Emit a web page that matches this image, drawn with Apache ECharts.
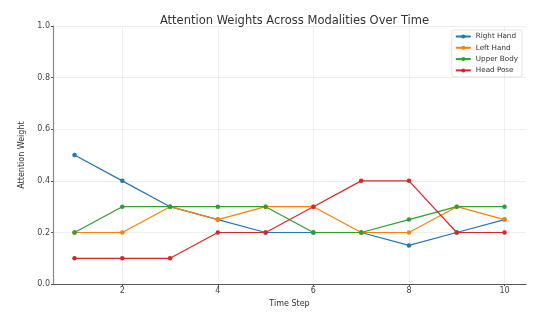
<!DOCTYPE html>
<html><head><meta charset="utf-8">
<script src="https://cdn.jsdelivr.net/npm/echarts@6/dist/echarts.min.js"></script>
<style>html,body{margin:0;padding:0;background:#fff}#c{width:554px;height:313px}</style>
</head><body><div id="c"></div>
<script>
const timeSteps = [1,2,3,4,5,6,7,8,9,10];
const rightHand = [0.5,0.4,0.3,0.25,0.2,0.2,0.2,0.15,0.2,0.25];
const leftHand = [0.2,0.2,0.3,0.25,0.3,0.3,0.2,0.2,0.3,0.25];
const upperBody = [0.2,0.3,0.3,0.3,0.3,0.2,0.2,0.25,0.3,0.3];
const headPose = [0.1,0.1,0.1,0.2,0.2,0.3,0.4,0.4,0.2,0.2];
const xTicks = [2,4,6,8,10];
const yTicks = [0,0.2,0.4,0.6,0.8,1.0];
const names = ['Right Hand','Left Hand','Upper Body','Head Pose'];
const colors = ['#1f77b4','#ff7f0e','#2ca02c','#d62728'];
const values = [rightHand,leftHand,upperBody,headPose];

const chart = echarts.init(document.getElementById('c'));
const font = 'DejaVu Sans';
chart.setOption({
  animation:false,
  title:{text:'Attention Weights Across Modalities Over Time',left:289.5,textAlign:'center',top:10,
    textStyle:{fontFamily:font,fontSize:11.5,fontWeight:'normal',color:'#333'}},
  legend:{orient:'vertical',right:32,top:30,itemWidth:15,itemHeight:5,itemGap:4.3,
    borderColor:'#ddd',borderWidth:0.8,borderRadius:2,padding:[3,4,3,3],
    textStyle:{fontFamily:font,fontSize:7.2,color:'#333'},data:names},
  grid:{left:53,right:28,top:26,bottom:28,containLabel:false},
  xAxis:{type:'value',min:0.55,max:10.45,
    name:'Time Step',nameLocation:'middle',nameGap:14,
    nameTextStyle:{fontFamily:font,fontSize:8,color:'#333'},
    axisLine:{show:true,lineStyle:{color:'#555',width:1}},
    axisTick:{show:true,customValues:xTicks,length:2,lineStyle:{color:'#555'}},
    axisLabel:{customValues:xTicks,fontFamily:font,fontSize:8,color:'#444',margin:3},
    splitLine:{show:true,lineStyle:{color:'#e8e8e8',width:0.7}}},
  yAxis:{type:'value',min:0,max:1,interval:0.2,
    name:'Attention Weight',nameLocation:'middle',nameGap:15,
    nameTextStyle:{fontFamily:font,fontSize:8,color:'#333'},
    axisLine:{show:true,lineStyle:{color:'#888',width:1.2}},
    axisTick:{show:true,length:2,lineStyle:{color:'#555'}},
    axisLabel:{fontFamily:font,fontSize:8,color:'#444',margin:3,formatter:v=>v.toFixed(1)},
    splitLine:{show:true,lineStyle:{color:'#e8e8e8',width:0.7}}},
  series: names.map((n,i)=>({name:n,type:'line',data:timeSteps.map((t,j)=>[t,values[i][j]]),
    symbol:'circle',symbolSize:4.5,lineStyle:{width:1.2,color:colors[i]},
    itemStyle:{color:colors[i]}}))
});
</script></body></html>
